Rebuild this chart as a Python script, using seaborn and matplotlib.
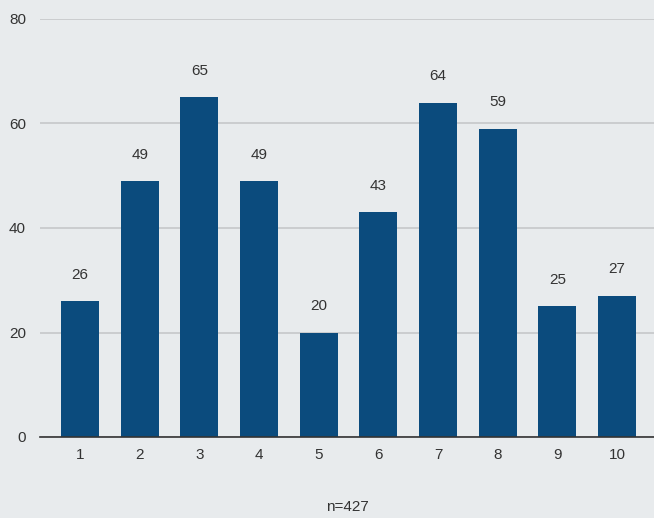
import matplotlib
matplotlib.use("Agg")
import matplotlib.pyplot as plt
import seaborn as sns
import pandas as pd

categories = ["1", "2", "3", "4", "5", "6", "7", "8", "9", "10"]
counts = [26, 49, 65, 49, 20, 43, 64, 59, 25, 27]
y_ticks = [0, 20, 40, 60, 80]
note = "n=427"

bg = "#e8ebed"
bar_color = "#0b4b7d"
text_color = "#333333"

sns.set_theme(style="white")
plt.rcParams["font.family"] = ["Liberation Sans", "DejaVu Sans"]

df = pd.DataFrame({"category": categories, "count": counts})

fig = plt.figure(figsize=(6.54, 5.18), dpi=100, facecolor=bg)
ax = fig.add_axes([40 / 654, 1 - 437 / 518, 1 - 40 / 654, (437 - 19) / 518])
ax.set_facecolor(bg)

sns.barplot(data=df, x="category", y="count", color=bar_color, width=0.64,
            saturation=1, linewidth=0, edgecolor="none", ax=ax, zorder=3)

ax.set_ylim(0, 80)
ax.set_xlim(-0.67, 9.62)
ax.set_yticks(y_ticks)
ax.grid(axis="y", color="#c6c8ca", linewidth=1.2, zorder=0)
for s in ["top", "right", "left"]:
    ax.spines[s].set_visible(False)
ax.spines["bottom"].set_color("#333333")
ax.spines["bottom"].set_linewidth(1.2)
ax.spines["bottom"].set_zorder(4)
ax.tick_params(axis="both", length=0, labelsize=11, colors=text_color)
ax.tick_params(axis="y", pad=10)
ax.tick_params(axis="x", pad=8)

for i, v in enumerate(counts):
    ax.annotate(str(v), (i, v), xytext=(0, 14), textcoords="offset points",
                ha="center", va="bottom", fontsize=11, color=text_color)

ax.set_xlabel(note, fontsize=11, color=text_color, labelpad=27)
ax.set_ylabel("")

fig.savefig("out.png", dpi=100, facecolor=bg)
